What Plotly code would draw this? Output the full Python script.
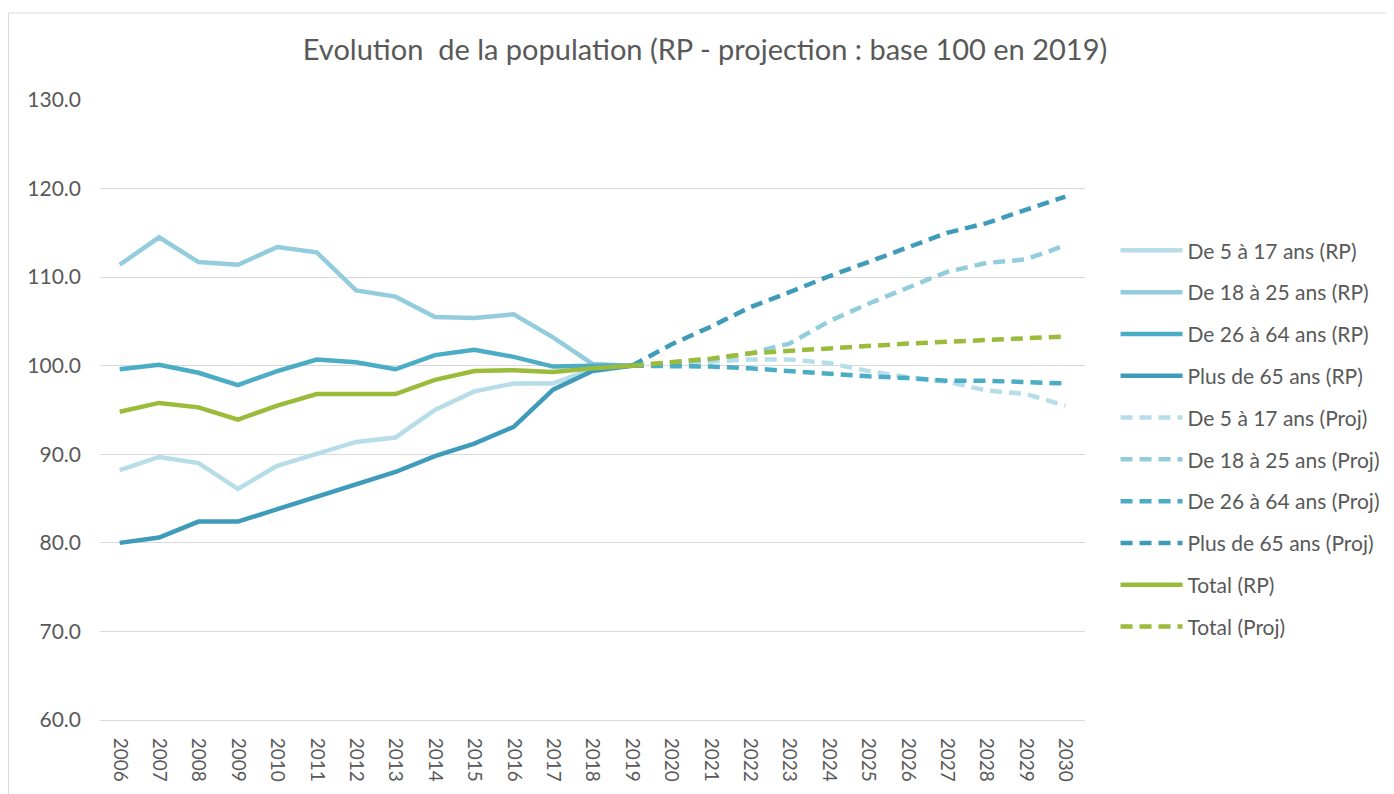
import plotly.graph_objects as go

years = [str(y) for y in range(2006, 2031)]
years_rp = [str(y) for y in range(2006, 2020)]
years_proj = [str(y) for y in range(2019, 2031)]

rp_5_17 = [88.2, 89.7, 89.0, 86.1, 88.7, 90.0, 91.4, 91.9, 95.0, 97.1, 98.0, 98.0, 99.6, 100.0]
rp_18_25 = [111.4, 114.5, 111.7, 111.4, 113.4, 112.8, 108.5, 107.8, 105.5, 105.4, 105.8, 103.2, 100.2, 100.0]
rp_26_64 = [99.6, 100.1, 99.2, 97.8, 99.4, 100.7, 100.4, 99.6, 101.2, 101.8, 101.0, 99.9, 100.0, 100.0]
rp_65 = [80.0, 80.6, 82.4, 82.4, 83.8, 85.2, 86.5, 88.0, 89.8, 91.2, 93.1, 97.3, 99.4, 100.0]
rp_total = [94.8, 95.8, 95.3, 93.9, 95.5, 96.8, 96.8, 96.8, 98.4, 99.4, 99.5, 99.3, 99.7, 100.0]

proj_5_17 = [100.0, 100.2, 100.5, 100.7, 100.7, 100.3, 99.4, 98.7, 98.2, 97.2, 96.8, 95.5]
proj_18_25 = [100.0, 100.3, 100.7, 101.4, 102.5, 105.0, 107.0, 108.8, 110.6, 111.6, 112.0, 113.6]
proj_26_64 = [100.0, 100.0, 99.9, 99.7, 99.4, 99.0, 98.8, 98.6, 98.3, 98.3, 98.2, 98.0]
proj_65 = [100.0, 102.4, 104.4, 106.6, 108.3, 110.1, 111.7, 113.3, 115.0, 116.1, 117.6, 119.1]
proj_total = [100.0, 100.4, 100.8, 101.4, 101.7, 102.0, 102.2, 102.5, 102.7, 102.9, 103.1, 103.3]

c_5_17 = "#B7DEE8"
c_18_25 = "#93CDDD"
c_26_64 = "#4BACC6"
c_65 = "#3F9BBA"
c_total = "#9BBB3B"

series = [
    ("De 5 à 17 ans (RP)", years_rp, rp_5_17, c_5_17, "solid"),
    ("De 18 à 25 ans (RP)", years_rp, rp_18_25, c_18_25, "solid"),
    ("De 26 à 64 ans (RP)", years_rp, rp_26_64, c_26_64, "solid"),
    ("Plus de 65 ans (RP)", years_rp, rp_65, c_65, "solid"),
    ("De 5 à 17 ans (Proj)", years_proj, proj_5_17, c_5_17, "12px,7px"),
    ("De 18 à 25 ans (Proj)", years_proj, proj_18_25, c_18_25, "12px,7px"),
    ("De 26 à 64 ans (Proj)", years_proj, proj_26_64, c_26_64, "12px,7px"),
    ("Plus de 65 ans (Proj)", years_proj, proj_65, c_65, "12px,7px"),
    ("Total (RP)", years_rp, rp_total, c_total, "solid"),
    ("Total (Proj)", years_proj, proj_total, c_total, "12px,7px"),
]

fig = go.Figure()
for i, (name, xs, ys, col, dash) in enumerate(series):
    fig.add_trace(go.Scatter(
        x=xs, y=ys, name=name, mode="lines",
        line=dict(color=col, width=4.5, dash=dash),
        legendgroup="g%d" % i,
    ))

font_family = "Lato, 'Open Sans', sans-serif"
# figure sits at an 8px page offset; margins compensate
L, T = 92, 92
W_PLOT, H_PLOT = 985, 620
fig.update_layout(
    width=1394, height=794,
    margin=dict(l=L, r=1394 - L - W_PLOT, t=T, b=794 - T - H_PLOT),
    paper_bgcolor="white", plot_bgcolor="white",
    font=dict(family=font_family, color="#595959", size=21),
    title=dict(
        text="Evolution  de la population (RP - projection : base 100 en 2019)",
        x=0.5, xref="container", y=1 - 42 / 794, yref="container",
        xanchor="center", yanchor="middle",
        font=dict(size=29, color="#595959", family=font_family),
    ),
    xaxis=dict(
        type="category", categoryorder="array", categoryarray=years,
        range=[-0.5, 24.5], tickangle=90, showgrid=False,
        showline=True, linecolor="#D9D9D9", linewidth=1,
        ticks="", tickfont=dict(size=19, color="#595959"),
        ticklabelstandoff=13,
        fixedrange=True,
    ),
    yaxis=dict(
        range=[60, 130], dtick=10, tickformat=".1f",
        showgrid=True, gridcolor="#D9D9D9", gridwidth=1,
        zeroline=False, showline=False, ticks="",
        tickfont=dict(size=21, color="#595959"),
        ticklabelstandoff=18,
        fixedrange=True,
    ),
    legend=dict(
        x=1.031, xanchor="left", y=0.79, yanchor="top",
        traceorder="grouped", tracegroupgap=11.5,
        itemwidth=62,
        font=dict(size=21, color="#595959", family=font_family),
        bgcolor="rgba(0,0,0,0)",
    ),
    showlegend=True,
)

# outer chart border (light gray)
x_left = (0.5 - L) / W_PLOT
x_right = (1394 - L) / W_PLOT
y_top = (T + H_PLOT - 5) / H_PLOT
y_bot = (T + H_PLOT - 794) / H_PLOT
fig.add_shape(type="line", xref="paper", yref="paper",
              x0=x_left, x1=x_right, y0=y_top, y1=y_top,
              line=dict(color="#D9D9D9", width=1))
fig.add_shape(type="line", xref="paper", yref="paper",
              x0=x_left, x1=x_left, y0=y_top, y1=y_bot,
              line=dict(color="#D9D9D9", width=1))

fig.write_html("out.html")
